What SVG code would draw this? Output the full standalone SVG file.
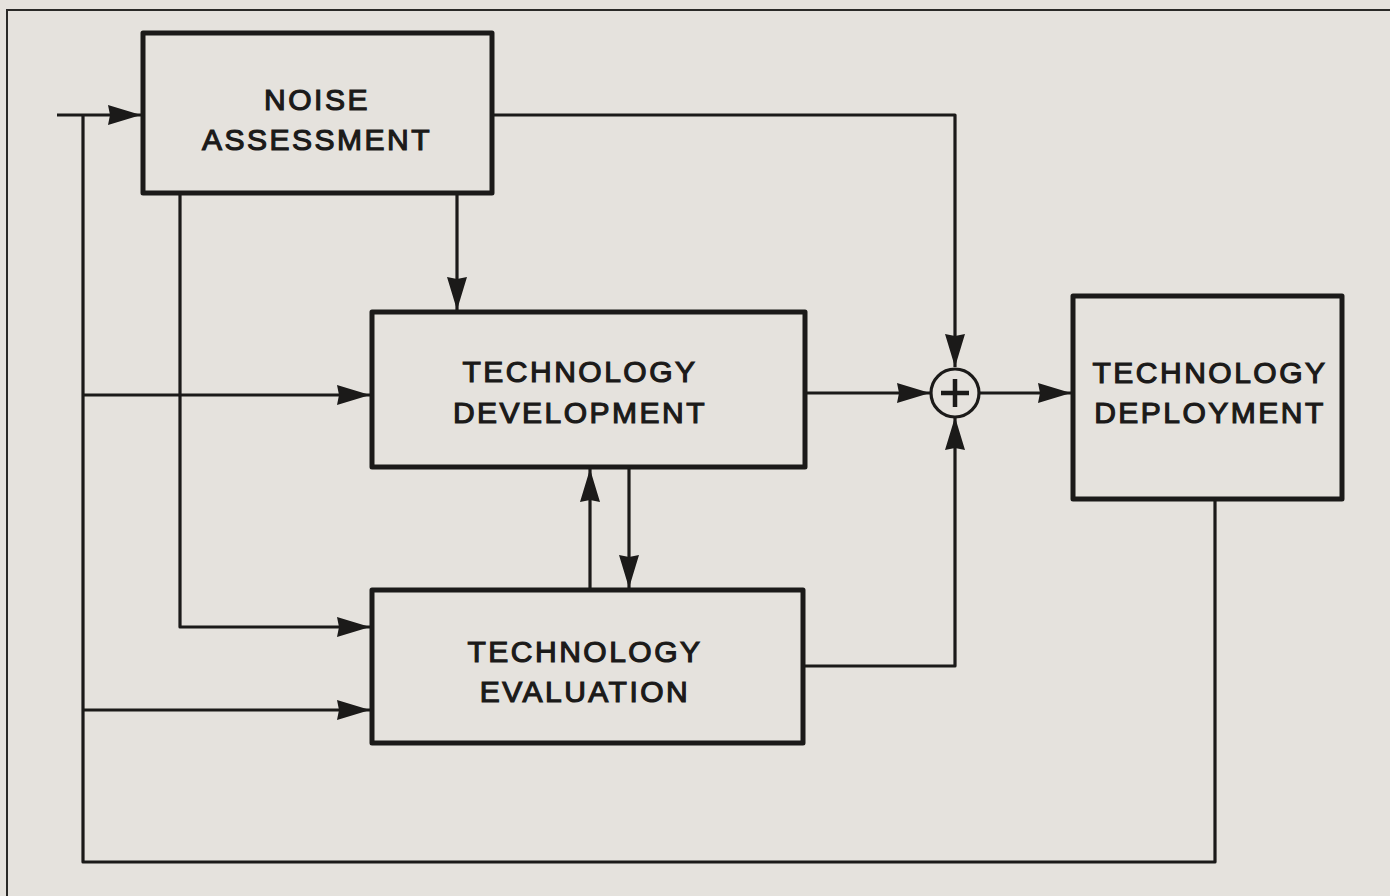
<svg xmlns="http://www.w3.org/2000/svg" width="1390" height="896" viewBox="0 0 1390 896">
<style>
.box{fill:none;stroke:#1b1a19;stroke-width:5;stroke-linejoin:round}
.ln{fill:none;stroke:#1b1a19;stroke-width:3.2;stroke-linejoin:round}
.lb{font-family:"Liberation Sans",Arial,sans-serif;font-size:30px;fill:#1b1a19;stroke:#1b1a19;stroke-width:1.2;letter-spacing:2.5px;text-anchor:middle}
</style>
<defs>
<marker id="ah" markerUnits="userSpaceOnUse" markerWidth="36" markerHeight="24" refX="33" refY="10" orient="auto">
<path d="M0,0 L33,10 L0,20 L2,10 Z" fill="#1b1a19"/>
</marker>
</defs>
<rect width="1390" height="896" fill="#e5e2dd"/>
<path d="M7,896 V10 H1390" fill="none" stroke="#2a2927" stroke-width="2"/>
<g id="connectors">
<path class="ln" d="M57,115 H141" marker-end="url(#ah)"/>
<path class="ln" d="M83,115 V862 H1215 V500"/>
<path class="ln" d="M83,395 H370" marker-end="url(#ah)"/>
<path class="ln" d="M83,710 H370" marker-end="url(#ah)"/>
<path class="ln" d="M180,195 V627 H370" marker-end="url(#ah)"/>
<path class="ln" d="M457,195 V310" marker-end="url(#ah)"/>
<path class="ln" d="M494,115 H955 V367" marker-end="url(#ah)"/>
<path class="ln" d="M807,393 H930" marker-end="url(#ah)"/>
<path class="ln" d="M805,666 H955 V417" marker-end="url(#ah)"/>
<path class="ln" d="M979,393 H1071" marker-end="url(#ah)"/>
<path class="ln" d="M590,588 V469" marker-end="url(#ah)"/>
<path class="ln" d="M629,469 V588" marker-end="url(#ah)"/>
</g>
<g id="sum">
<circle cx="955" cy="393" r="24" fill="none" stroke="#1b1a19" stroke-width="3.2"/>
<path d="M941,393 H969 M955,379 V407" stroke="#1b1a19" stroke-width="4.5" fill="none"/>
</g>
<g id="noise">
<rect class="box" x="143" y="33" width="349" height="160"/>
<text class="lb" x="317" y="110">NOISE</text>
<text class="lb" x="317" y="150">ASSESSMENT</text>
</g>
<g id="development">
<rect class="box" x="372" y="312" width="433" height="155"/>
<text class="lb" x="580" y="382">TECHNOLOGY</text>
<text class="lb" x="580" y="423">DEVELOPMENT</text>
</g>
<g id="evaluation">
<rect class="box" x="372" y="590" width="431" height="153"/>
<text class="lb" x="585" y="662">TECHNOLOGY</text>
<text class="lb" x="585" y="702">EVALUATION</text>
</g>
<g id="deployment">
<rect class="box" x="1073" y="296" width="269" height="203"/>
<text class="lb" x="1210" y="383">TECHNOLOGY</text>
<text class="lb" x="1210" y="423">DEPLOYMENT</text>
</g>
</svg>
